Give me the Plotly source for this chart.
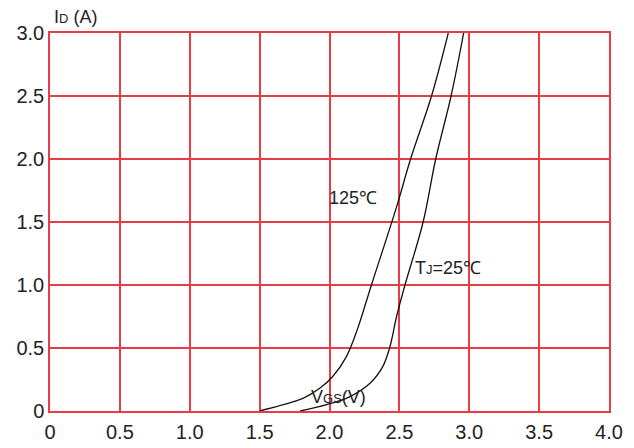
import plotly.graph_objects as go

# Transfer characteristics (ID vs VGS)
vgs_125 = [1.50, 1.67, 1.81, 1.93, 2.02, 2.12, 2.20, 2.30, 2.48, 2.58, 2.73, 2.85]
id_125 = [0.00, 0.05, 0.10, 0.18, 0.27, 0.43, 0.65, 1.00, 1.62, 2.00, 2.50, 3.00]
vgs_25 = [1.79, 1.98, 2.14, 2.29, 2.38, 2.43, 2.48, 2.54, 2.67, 2.76, 2.87, 2.96]
id_25 = [0.00, 0.05, 0.11, 0.22, 0.35, 0.50, 0.75, 1.00, 1.50, 2.00, 2.50, 3.00]

x_ticks = [0, 0.5, 1.0, 1.5, 2.0, 2.5, 3.0, 3.5, 4.0]
x_labels = ["0", "0.5", "1.0", "1.5", "2.0", "2.5", "3.0", "3.5", "4.0"]
y_ticks = [0, 0.5, 1.0, 1.5, 2.0, 2.5, 3.0]
y_labels = ["0", "0.5", "1.0", "1.5", "2.0", "2.5", "3.0"]

RED = "rgb(232,60,70)"
FONT = "Liberation Sans, Arial, sans-serif"

fig = go.Figure()
for xs, ys in [(vgs_125, id_125), (vgs_25, id_25)]:
    fig.add_trace(go.Scatter(x=xs, y=ys, mode="lines",
                             line=dict(color="#111", width=1.3, shape="spline", smoothing=1.0),
                             showlegend=False, cliponaxis=False))

axis_common = dict(showgrid=True, gridcolor=RED, gridwidth=1.5, zeroline=False,
                   showline=True, linecolor=RED, linewidth=1.5, mirror=True, automargin=False,
                   ticks="", tickfont=dict(family=FONT, size=20, color="#222"))
fig.update_xaxes(range=[0, 4.0], tickvals=x_ticks, ticktext=x_labels, ticklabelstandoff=2, **axis_common)
fig.update_yaxes(range=[0, 3.0], tickvals=y_ticks, ticktext=y_labels, ticklabelstandoff=0, **axis_common)

ann_font = dict(family=FONT, size=18, color="#222")
SMALL = "<span style='font-size:13px'>%s</span>"
fig.add_annotation(x=0.004, y=1.042, xref="paper", yref="paper", text="I" + SMALL % "D" + " (A)",
                   showarrow=False, xanchor="left", yanchor="middle", font=ann_font)
fig.add_annotation(x=1.98, y=1.69, xref="x", yref="y", text="125℃",
                   showarrow=False, xanchor="left", yanchor="middle", font=ann_font)
fig.add_annotation(x=2.60, y=1.135, xref="x", yref="y", text="T" + SMALL % "J" + "=25℃",
                   showarrow=False, xanchor="left", yanchor="middle", font=ann_font)
fig.add_annotation(x=1.85, y=0.11, xref="x", yref="y", text="V" + SMALL % "GS" + "(V)",
                   showarrow=False, xanchor="left", yanchor="middle", font=ann_font)

fig.update_layout(width=634, height=448, margin=dict(l=50, r=25, t=33, b=37),
                  plot_bgcolor="white", paper_bgcolor="white",
                  font=dict(family=FONT))
fig.write_html("out.html")
